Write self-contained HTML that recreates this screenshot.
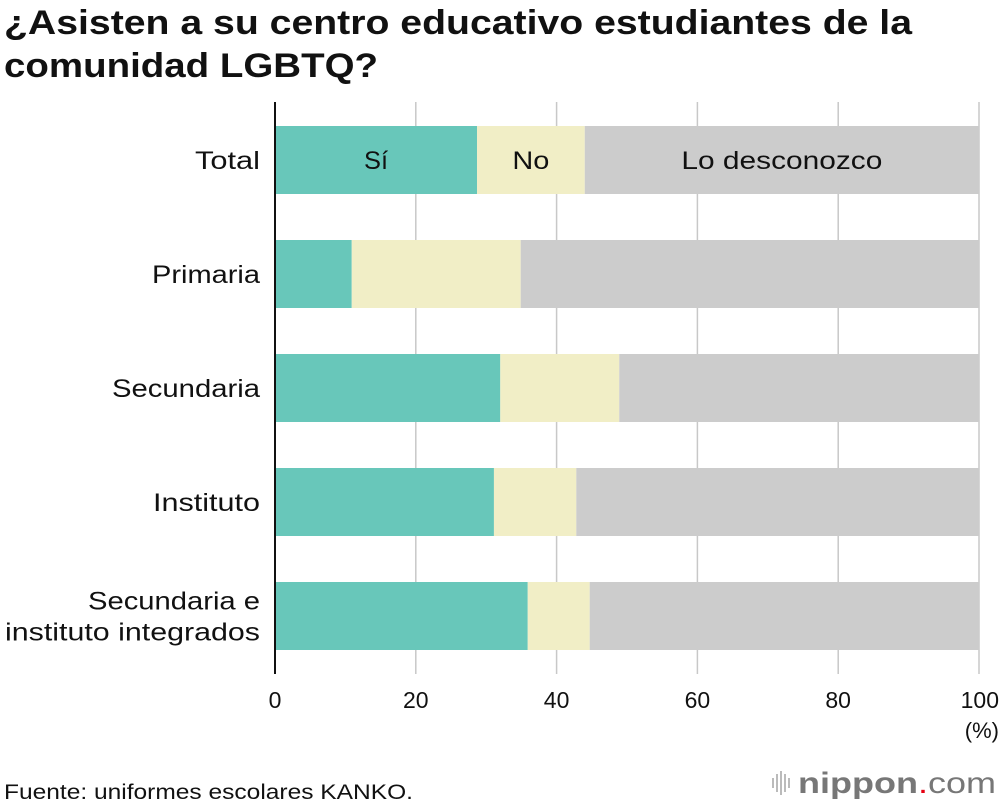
<!DOCTYPE html>
<html><head><meta charset="utf-8"><style>
body{margin:0;width:1000px;height:806px;background:#fff;font-family:"Liberation Sans",sans-serif;overflow:hidden}
</style></head><body>
<svg id="c" width="1000" height="806" xmlns="http://www.w3.org/2000/svg">
<text x="4" y="34" font-size="34" font-weight="bold" fill="#111" textLength="908" lengthAdjust="spacingAndGlyphs">¿Asisten a su centro educativo estudiantes de la</text>
<text x="4" y="77" font-size="34" font-weight="bold" fill="#111" textLength="374" lengthAdjust="spacingAndGlyphs">comunidad LGBTQ?</text>
<g id="grid"></g><g id="bars"></g><g id="axis"></g>
<text x="4" y="799" font-size="21" fill="#111" textLength="409" lengthAdjust="spacingAndGlyphs">Fuente: uniformes escolares KANKO.</text>
<g>
<g fill="#bbb"><rect x="772" y="778" width="2" height="10"/><rect x="776" y="774" width="2" height="18"/><rect x="780" y="771" width="2" height="24"/><rect x="784" y="774" width="2" height="18"/><rect x="788" y="778" width="2" height="10"/></g>
<text x="798" y="793" font-size="30" fill="#777" textLength="198" lengthAdjust="spacingAndGlyphs"><tspan font-weight="bold">nippon</tspan><tspan fill="#e60012">.</tspan><tspan>com</tspan></text>
</g>
</svg>
<script>
const categories=["Total","Primaria","Secundaria","Instituto","Secundaria e|instituto integrados"];
const si=[28.7,10.9,32.0,31.1,35.9];
const no=[15.3,24.0,16.9,11.7,8.8];
const unknown=[56.0,65.1,51.1,57.2,55.3];
const ticks=[0,20,40,60,80,100];
const seriesNames=["Sí","No","Lo desconozco"];
const colors=["#68c7ba","#f1eec6","#cccccc"];
const labelW={"Total":65,"Primaria":108,"Secundaria":148,"Instituto":107,"Secundaria e":172,"instituto integrados":255,"Sí":24,"No":37,"Lo desconozco":201};
const NS="http://www.w3.org/2000/svg";
const x0=275,x1=979,top0=126,step=114,bh=68;
const X=v=>x0+(x1-x0)*v/100;
const Y=i=>top0+i*step;
function mk(t,a,p){const e=document.createElementNS(NS,t);for(const k in a)e.setAttribute(k,a[k]);p.appendChild(e);return e;}
const grid=document.getElementById('grid'),bars=document.getElementById('bars'),axis=document.getElementById('axis');
ticks.forEach(t=>{
 if(t>0){const l=mk('line',{x1:X(t),x2:X(t),y1:102,y2:674,stroke:'#c8c8c8','stroke-width':1.5},grid);
 
 }
 const tx=mk('text',{x:X(t),y:708,'font-size':23,'text-anchor':t==100?'end':'middle',fill:'#111'},axis);
 if(t==100)tx.setAttribute('x',X(t)+20);
 tx.textContent=t;
 
 
});
const u=mk('text',{x:999,y:738,'font-size':22,'text-anchor':'end',fill:'#111'},axis);u.textContent='(%)';


categories.forEach((c,i)=>{
 const vals=[si[i],no[i],unknown[i]];let acc=0;
 vals.forEach((v,j)=>{
  const r=mk('rect',{x:X(acc),y:Y(i),width:X(acc+v)-X(acc),height:bh,fill:colors[j]},bars);
  
  
  if(i==0){const t=mk('text',{x:(X(acc)+X(acc+v))/2,y:Y(i)+bh/2+9,'font-size':25,'text-anchor':'middle',fill:'#111',textLength:labelW[seriesNames[j]],lengthAdjust:'spacingAndGlyphs'},bars);t.textContent=seriesNames[j];
   
   }
  acc+=v;
 });
 const lines=c.split('|');
 lines.forEach((ln,k)=>{
  const t=mk('text',{x:260,y:Y(i)+bh/2+9+(k-(lines.length-1)/2)*31,'font-size':25,'text-anchor':'end',fill:'#111',textLength:labelW[ln],lengthAdjust:'spacingAndGlyphs'},axis);
  t.textContent=ln;
  
  
 });
});
const ax=mk('line',{x1:x0,x2:x0,y1:102,y2:674,stroke:'#111','stroke-width':2},axis);


</script>
</body></html>
